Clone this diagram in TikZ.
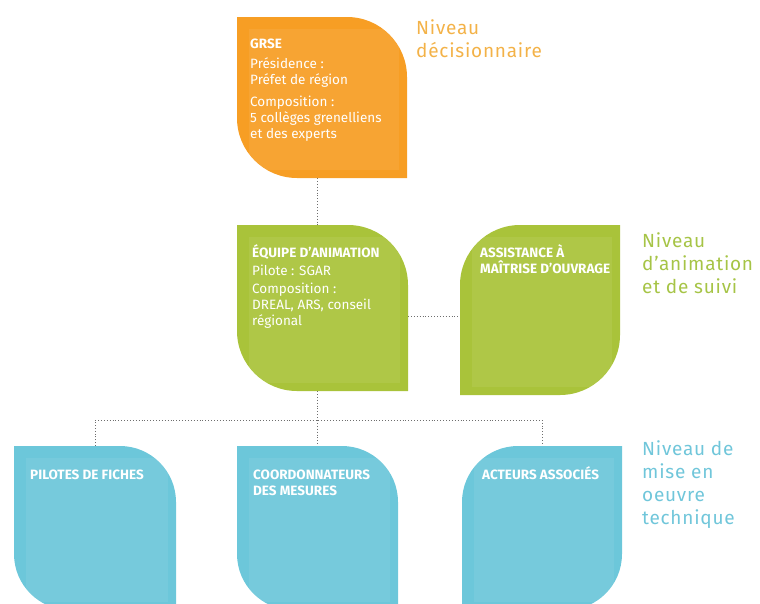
\documentclass[tikz,border=0pt]{standalone}
\usepackage{fontspec}
\setmainfont{Fira Sans}
\newfontfamily\levelfont{Fira Sans}[LetterSpace=4]
\usetikzlibrary{calc}

\definecolor{grseorange}{RGB}{247,158,36}
\definecolor{animgreen}{RGB}{169,195,58}
\definecolor{techblue}{RGB}{108,199,218}
\definecolor{lvlorange}{RGB}{243,178,72}
\definecolor{lvlgreen}{RGB}{166,196,70}
\definecolor{lvlblue}{RGB}{112,198,218}
\definecolor{linkgray}{RGB}{110,110,110}

% leaf panel, top-right and bottom-left corners rounded
\newcommand\leafright[3]{%
  \fill[#2] (#1.north west) -- ($(#1.north east)+(-#3,0)$)
    arc[start angle=90,end angle=0,radius=#3] -- (#1.south east)
    -- ($(#1.south west)+(#3,0)$)
    arc[start angle=270,end angle=180,radius=#3] -- cycle;
  \fill[white,opacity=.07] ($(#1.north west)+(12pt,-12pt)$) rectangle ($(#1.south east)+(-8pt,8pt)$);}
% leaf panel, top-left and bottom-right corners rounded
\newcommand\leafleft[3]{%
  \fill[#2] ($(#1.north west)+(0,-#3)$)
    arc[start angle=180,end angle=90,radius=#3] -- (#1.north east)
    -- ($(#1.south east)+(0,#3)$)
    arc[start angle=0,end angle=-90,radius=#3] -- (#1.south west) -- cycle;
  \fill[white,opacity=.07] ($(#1.north west)+(12pt,-12pt)$) rectangle ($(#1.south east)+(-8pt,8pt)$);}

\tikzset{
  slot/.style={rectangle, inner sep=0pt, outer sep=0pt},
  boxtext/.style={anchor=north west, inner sep=0pt, align=left, text=white,
    font=\fontsize{13.5}{16}\selectfont},
  lvltext/.style={anchor=north west, inner sep=0pt, align=left,
    font=\levelfont\fontsize{19}{23}\selectfont},
  link/.style={draw=linkgray, dotted, line width=0.9pt},
}

\begin{document}
\begin{tikzpicture}[x=1pt,y=1pt]
\useasboundingbox (0,0) rectangle (760,-603);
\clip (0,0) rectangle (760,-603);

% panel frames
\node[slot, minimum width=170pt, minimum height=161pt] (grse)    at (322,-97.5) {};
\node[slot, minimum width=171pt, minimum height=166pt] (anim)    at (322.5,-308) {};
\node[slot, minimum width=160pt, minimum height=170pt] (amo)     at (540,-310) {};
\node[slot, minimum width=162pt, minimum height=164pt] (fiches)  at (95,-528) {};
\node[slot, minimum width=161pt, minimum height=164pt] (coord)   at (317.5,-528) {};
\node[slot, minimum width=160pt, minimum height=164pt] (acteurs) at (542,-528) {};

% connectors
\coordinate (bus) at (0,-420);
\draw[link] (coord.north |- grse.south) -- (coord.north |- anim.north);
\draw[link] ([yshift=-8pt]anim.east) -- ([yshift=-8pt]anim.east -| amo.west);
\draw[link] (coord.north |- anim.south) -- (coord.north);
\draw[link] (fiches.north) -- (fiches.north |- bus) -- (acteurs.north |- bus) -- (acteurs.north);

% panels
\leafright{grse}{grseorange}{60pt}
\leafright{anim}{animgreen}{60pt}
\leafleft{amo}{animgreen}{60pt}
\leafright{fiches}{techblue}{56pt}
\leafright{coord}{techblue}{56pt}
\leafleft{acteurs}{techblue}{56pt}

% panel texts (first line: baseline 14pt below the anchor)
\node[boxtext] (grse-t) at (250,-34) {\rule{0pt}{14pt}\textbf{GRSE}\\[4pt]
  Présidence :\\ Préfet de région\\[6pt]
  Composition :\\ 5 collèges grenelliens\\ et des experts};
\node[boxtext] (anim-t) at (252,-243) {\rule{0pt}{14pt}\textbf{ÉQUIPE D’ANIMATION}\\[2pt]
  Pilote : SGAR\\[2pt]
  Composition :\\ DREAL, ARS, conseil\\ régional};
\node[boxtext] (amo-t) at (480,-243) {\rule{0pt}{14pt}\textbf{ASSISTANCE À}\\ \textbf{MAÎTRISE D’OUVRAGE}};
\node[boxtext] (fiches-t) at (30,-465) {\rule{0pt}{14pt}\textbf{PILOTES DE FICHES}};
\node[boxtext] (coord-t) at (253,-465) {\rule{0pt}{14pt}\textbf{COORDONNATEURS}\\ \textbf{DES MESURES}};
\node[boxtext] (acteurs-t) at (482,-465) {\rule{0pt}{14pt}\textbf{ACTEURS ASSOCIÉS}};

% level captions
\node[lvltext, text=lvlorange] (lvl-dec) at (416,-18) {\rule{0pt}{16pt}Niveau\\ décisionnaire};
\node[lvltext, text=lvlgreen] (lvl-anim) at (642,-231) {\rule{0pt}{16pt}Niveau\\ d’animation\\ et de suivi};
\node[lvltext, text=lvlblue] (lvl-tech) at (642,-439) {\rule{0pt}{16pt}Niveau de\\ mise en\\ oeuvre\\ technique};
\end{tikzpicture}
\end{document}
